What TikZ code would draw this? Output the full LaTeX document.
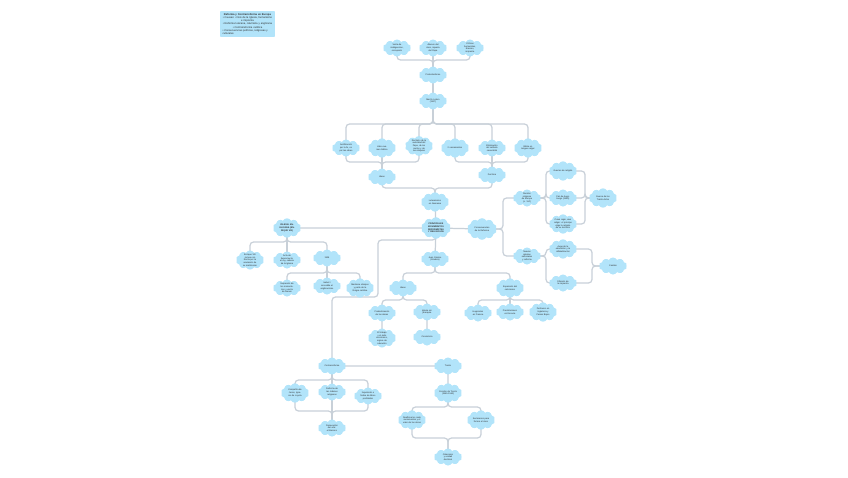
\documentclass[tikz,border=0pt]{standalone}
\usepackage{fontspec}
\setmainfont{Liberation Sans}
\usetikzlibrary{shapes.symbols,backgrounds}
\definecolor{CloudBlue}{RGB}{178,228,250}
\definecolor{LinkGray}{RGB}{200,208,216}
\definecolor{InkDark}{RGB}{45,45,45}
\tikzset{
  idea/.style={cloud,cloud puffs=10,cloud puff arc=120,aspect=1.6,
    fill=CloudBlue,draw=none,inner sep=-0.35pt,minimum width=0.56cm,
    minimum height=0.34cm,text width=0.31cm,align=center,text=InkDark,
    font=\fontsize{1.25}{1.5}\selectfont},
  lead/.style={idea,font=\fontsize{1.25}{1.5}\selectfont\bfseries},
  wide/.style={text width=0.38cm},
  link/.style={draw=LinkGray,line width=0.7pt,rounded corners=2pt},
  legendbox/.style={draw=none,fill=CloudBlue,rounded corners=0.5pt,
    minimum width=1.1cm,minimum height=0.52cm,text width=1.0cm,
    align=left,inner sep=1pt,text=InkDark,font=\fontsize{1.5}{1.8}\selectfont},
}

\begin{document}
\begin{tikzpicture}[x=0.02cm,y=-0.02cm]
\useasboundingbox (0,0) rectangle (848,477);
% legend
\node[legendbox] (legend) at (247.5,24) {\centering\textbf{Reforma y Contrarreforma en Europa}\par
  \textbullet\ Causas: crisis de la Iglesia, humanismo e imprenta\par
  \textbullet\ Reforma luterana, calvinista y anglicana\par
  \textbullet\ Contrarreforma católica\par
  \textbullet\ Consecuencias políticas, religiosas y culturales};
% causes and Luther
\node[idea] (t1) at (397,48) {Venta de indulgencias, corrupción};
\node[idea] (t2) at (433,48) {Abusos del clero, riqueza del Papa};
\node[idea] (t3) at (470,48) {Críticas humanistas, Erasmo, imprenta};
\node[idea] (refo) at (433,75) {Protestantismo};
\node[idea] (lut) at (433,101) {Martín Lutero (1517)};
\node[idea] (i1) at (346,148) {Justificación por la fe, no por las obras};
\node[idea,wide] (i2) at (382,148) {Libre examen bíblico};
\node[idea] (i3) at (419,146) {Rechazo de la autoridad del Papa, de los santos y de las reliquias};
\node[idea,wide] (i4) at (455,148) {2 sacramentos};
\node[idea] (i5) at (492,148) {Eliminación del celibato sacerdotal};
\node[idea,wide] (i6) at (528,148) {Biblia en lengua vulgar};
\node[idea] (ideas) at (382,177) {Ideas};
\node[idea] (doct) at (492,175) {Doctrina};
\node[idea,wide] (luter) at (435,202) {Luteranismo en Alemania};
\node[lead,text width=0.42cm] (main) at (436,228) {PRINCIPALES MOVIMIENTOS REFORMISTAS Y RELIGIOSOS};
% consequences
\node[idea,text width=0.42cm] (cons) at (482,229) {Consecuencias de la Reforma};
\node[idea] (c1) at (527,198) {División religiosa de Europa (s. XVI)};
\node[idea,wide] (c11) at (563,171) {Guerras de religión};
\node[idea] (c12) at (563,198) {Paz de Augsburgo (1555)};
\node[idea,wide] (c13) at (563,224) {Cuius regio, eius religio: el príncipe elige la religión de su territorio};
\node[idea,wide] (c1x) at (603,198) {Guerra de los Treinta Años};
\node[idea] (c2) at (527,256) {Nuevas iglesias nacionales y reforma};
\node[idea,wide] (c21) at (563,249) {Auge de la educación y la alfabetización};
\node[idea] (c22) at (563,283) {Difusión de la imprenta};
\node[idea] (c2x) at (613,266) {Cambio};
% anglican church
\node[lead,wide] (angl) at (287,228) {IGLESIA ANGLICANA (ENRIQUE VIII)};
\node[idea] (a1) at (250,260) {Enrique VIII rompe con Roma por la anulación de su matrimonio};
\node[idea] (a2) at (287,260) {Acta de Supremacía: el rey, cabeza de la Iglesia};
\node[idea] (a3) at (327,258) {1534};
\node[idea] (a31) at (287,288) {Supresión de los monasterios y venta de bienes};
\node[idea] (a32) at (327,286) {Isabel I consolida el anglicanismo};
\node[idea,wide] (a33) at (360,288) {Mantiene obispos y parte de la liturgia católica};
% calvinism
\node[idea] (calv) at (435,259) {Juan Calvino (Ginebra)};
\node[idea] (cv1) at (403,288) {Ideas};
\node[idea] (cv11) at (382,313) {Predestinación de las almas};
\node[idea] (cv111) at (382,338) {El trabajo y el éxito económico, signos de salvación};
\node[idea] (cv12) at (427,312) {Iglesia sin jerarquía};
\node[idea] (cv121) at (427,337) {Consistorio};
\node[idea,wide] (cv2) at (510,288) {Expansión del calvinismo};
\node[idea] (cv21) at (478,313) {Hugonotes en Francia};
\node[idea] (cv22) at (510,312) {Presbiterianos en Escocia};
\node[idea,wide] (cv23) at (543,312) {Puritanos en Inglaterra y Países Bajos};
% counter-reformation
\node[idea] (contra) at (332,366) {Contrarreforma};
\node[idea,wide] (k1) at (295,393) {Compañía de Jesús, Ignacio de Loyola};
\node[idea] (k2) at (332,392) {Reforma de las órdenes religiosas};
\node[idea] (k3) at (368,396) {Inquisición e Índice de libros prohibidos};
\node[idea] (k4) at (332,428) {Renovación del arte: el Barroco};
\node[idea] (trento) at (448,366) {Trento};
\node[idea,wide] (t11) at (448,393) {Concilio de Trento (1545-1563)};
\node[idea,wide] (t12) at (412,420) {Reafirma los siete sacramentos y el valor de las obras};
\node[idea,wide] (t13) at (481,420) {Seminarios para formar al clero};
\node[idea] (t14) at (448,457) {Catecismo y unidad doctrinal};
% connectors
\begin{scope}[on background layer]
\draw[link] (t1.center) -- (t1|-0,60) -| (refo.center);
\draw[link] (t3.center) -- (t3|-0,60) -| (refo.center);
\draw[link] (t2.center) -- (refo.center) -- (lut.center);
\foreach \n in {i1,i2,i3,i4,i5,i6}
  \draw[link] (lut.center) -- (lut|-0,124) -| (\n.center);
\foreach \n in {i1,i2,i3}
  \draw[link] (\n.center) -- (\n|-0,162) -| (ideas.center);
\foreach \n in {i4,i5,i6}
  \draw[link] (\n.center) -- (\n|-0,162) -| (doct.center);
\draw[link] (ideas.center) -- (ideas|-0,188) -| (luter.center);
\draw[link] (doct.center) -- (doct|-0,188) -| (luter.center);
\draw[link] (luter.center) -- (main.center) -- (calv.center);
\draw[link] (angl.center) -- (main.center) -- (cons.center);
\draw[link] (cons.center) -- (cons-|503,0) |- (c1.center);
\draw[link] (cons.center) -- (cons-|503,0) |- (c2.center);
\foreach \n in {c11,c12,c13} {
  \draw[link] (c1.center) -- (c1-|546,0) |- (\n.center);
  \draw[link] (\n.center) -- (\n-|585,0) |- (c1x.center);
}
\foreach \n in {c21,c22} {
  \draw[link] (c2.center) -- (c2-|546,0) |- (\n.center);
  \draw[link] (\n.center) -- (\n-|592,0) |- (c2x.center);
}
\foreach \n in {a1,a2,a3}
  \draw[link] (angl.center) -- (angl|-0,242) -| (\n.center);
\foreach \n in {a31,a32,a33}
  \draw[link] (a3.center) -- (a3|-0,273) -| (\n.center);
\draw[link] (main.center) -- (main|-0,240) -| (378,297) -| (contra.center);
\draw[link] (calv.center) -- (calv|-0,273) -| (cv1.center);
\draw[link] (calv.center) -- (calv|-0,273) -| (cv2.center);
\draw[link] (cv1.center) -- (cv1|-0,300) -| (cv11.center) -- (cv111.center);
\draw[link] (cv1.center) -- (cv1|-0,300) -| (cv12.center) -- (cv121.center);
\foreach \n in {cv21,cv22,cv23}
  \draw[link] (cv2.center) -- (cv2|-0,300) -| (\n.center);
\draw[link] (contra.center) -- (trento.center) -- (t11.center);
\foreach \n in {k1,k2,k3} {
  \draw[link] (contra.center) -- (contra|-0,380) -| (\n.center);
  \draw[link] (\n.center) -- (\n|-0,411) -| (k4.center);
}
\foreach \n in {t12,t13} {
  \draw[link] (t11.center) -- (t11|-0,407) -| (\n.center);
  \draw[link] (\n.center) -- (\n|-0,438) -| (t14.center);
}
\end{scope}
\end{tikzpicture}
\end{document}
